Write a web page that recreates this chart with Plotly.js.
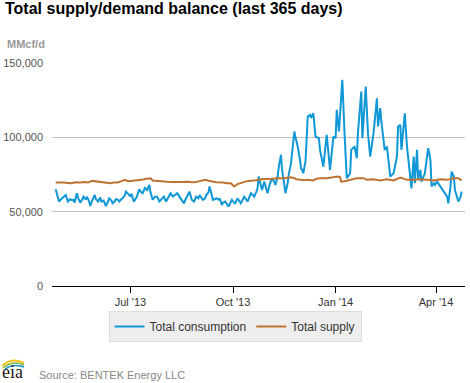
<!DOCTYPE html>
<html>
<head>
<meta charset="utf-8">
<script src="https://cdn.plot.ly/plotly-3.0.1.min.js"></script>
<style>
html,body{margin:0;padding:0;background:#fff;}
#chart{width:470px;height:383px;}
</style>
</head>
<body>
<div id="chart"></div>
<script>
// Day offsets are counted from the first day of the 365-day window
var startDate = '2013-04-25';

var consDays = [0,2,3,5,7,9,11,13,14,16,17,19,20,22,24,25,27,28,30,31,33,35,36,38,40,41,43,45,47,48,50,51,53,54,56,57,59,60,62,63,65,67,68,70,72,73,75,76,78,80,82,84,85,87,89,91,93,95,97,99,101,103,105,107,109,111,113,115,116,118,120,122,124,126,128,129,131,132,134,135,137,138,140,141,143,144,146,147,149,150,152,154,155,157,158,160,161,163,164,166,168,169,171,172,174,175,177,178,180,181,182,184,185,187,189,190,192,193,194,196,197,199,200,202,203,205,206,208,209,211,214,215,217,219,220,221,222,224,225,226,228,229,231,233,236,237,240,243,246,248,249,251,252,254,255,257,259,261,264,265,268,270,271,274,275,278,280,282,285,288,289,291,292,295,297,300,303,306,307,309,310,313,315,318,319,321,322,324,325,327,328,331,334,336,337,339,340,342,345,348,351,352,354,355,357,358,360,361,363,364];
var consumption = [65.1,59.0,56.8,58.5,60.1,61.2,56.8,58.5,57.9,58.0,56.1,62.4,59.5,56.1,58.5,60.1,58.0,60.1,57.0,53.8,58.0,61.2,58.5,56.8,59.5,56.8,57.5,53.8,57.0,59.0,57.5,55.6,57.0,58.4,58.0,56.8,58.5,59.0,61.0,63.5,62.0,60.1,62.0,56.8,59.0,60.5,65.1,63.5,62.4,66.0,64.6,68.0,63.0,58.0,60.1,60.1,56.8,58.5,60.1,56.8,59.5,62.4,60.1,61.0,62.4,60.1,57.5,55.6,57.5,60.1,63.5,58.0,56.8,60.1,59.0,61.2,59.5,57.9,59.0,61.2,63.0,66.9,61.0,57.9,58.5,59.0,58.0,59.0,54.5,56.0,56.8,55.0,53.4,56.5,57.9,56.0,55.6,59.0,57.5,55.6,58.5,60.1,58.0,56.8,60.5,62.4,61.0,60.1,63.5,65.7,73.6,68.0,64.6,70.2,66.0,62.4,68.5,70.2,72.5,70.0,68.0,73.6,80.0,88.2,78.1,68.0,62.4,69.1,75.0,82.6,103.9,100.0,93.8,85.0,79.2,78.1,75.8,84.0,100.0,114.0,115.1,113.0,116.2,100.5,99.4,91.6,80.3,101.7,78.1,91.6,100.5,99.4,118.5,103.9,114.0,138.7,102.8,72.5,75.8,91.6,93.8,85.9,102.8,130.8,99.4,134.2,102.8,87.1,102.8,126.3,107.3,119.6,110.6,91.6,93.8,73.6,75.8,87.1,107.3,108.4,91.6,116.2,93.8,71.3,65.7,87.1,69.1,91.6,71.3,78.1,70.2,75.8,92.7,84.8,66.9,69.1,68.0,70.2,66.9,63.5,60.1,55.6,66.9,77.0,73.6,64.6,57.9,56.8,60.1,63.5];

var supplyDays = [0,4,7,11,14,18,22,26,29,33,37,43,46,49,52,55,58,62,65,70,73,77,80,85,87,91,95,100,105,109,113,118,122,126,130,134,138,144,150,153,157,160,163,165,170,173,177,180,184,190,195,199,205,210,213,216,219,223,225,231,234,237,243,249,253,255,256,259,264,270,276,279,285,291,297,303,309,315,321,327,333,339,345,351,357,361,364];
var supply = [69.6,69.8,69.6,69.3,69.1,69.8,69.6,70.0,69.6,70.7,70.2,69.6,69.4,69.1,69.6,69.6,70.2,71.4,70.5,70.7,71.0,71.4,72.0,72.5,71.0,70.7,70.2,70.2,70.0,69.8,70.0,70.2,69.8,70.0,70.5,71.4,70.6,69.8,69.6,69.1,69.1,66.9,68.5,69.1,70.2,70.7,70.9,71.2,71.8,71.8,72.2,72.5,72.5,73.2,72.8,71.8,71.4,71.2,71.4,71.0,72.2,72.5,72.5,72.9,73.6,73.2,70.2,70.4,71.4,72.5,72.5,71.4,71.8,71.0,71.8,71.0,72.9,71.4,71.4,71.8,71.4,71.0,71.8,71.4,72.5,72.5,71.0];

var seriesNames = ['Total consumption', 'Total supply'];
var tickDates = ['2013-07-01', '2013-10-01', '2014-01-01', '2014-04-01'];
var tickLabels = ["Jul '13", "Oct '13", "Jan '14", "Apr '14"];
var yTicks = [0, 50000, 100000, 150000];

function dayToDate(d) {
  var t = new Date(startDate + 'T00:00:00Z');
  t.setUTCDate(t.getUTCDate() + d);
  return t.toISOString().slice(0, 10);
}
function toMMcf(v) { return v * 1000; }

// layout geometry (pixels -> paper)
var W = 470, H = 383, L = 52, R = 5, T = 63, B = 97;
var pw = W - L - R, ph = H - T - B;
function px(x) { return (x - L) / pw; }
function py(y) { return (H - B - y) / ph; }

var traces = [
  {
    x: consDays.map(dayToDate), y: consumption.map(toMMcf),
    name: seriesNames[0], type: 'scatter', mode: 'lines',
    line: {color: '#0f97d6', width: 2}, hoverinfo: 'x+y'
  },
  {
    x: supplyDays.map(dayToDate), y: supply.map(toMMcf),
    name: seriesNames[1], type: 'scatter', mode: 'lines',
    line: {color: '#bd7331', width: 2}, hoverinfo: 'x+y'
  }
];

function arc(x0, y0, cx, cy, x1, y1) {
  return 'M ' + px(x0) + ',' + py(y0) + ' Q ' + px(cx) + ',' + py(cy) + ' ' + px(x1) + ',' + py(y1);
}

var layout = {
  width: W, height: H,
  margin: {l: L, r: R, t: T, b: B, pad: 0},
  paper_bgcolor: '#ffffff', plot_bgcolor: '#ffffff',
  font: {family: 'Liberation Sans, Arial, sans-serif', size: 11, color: '#333'},
  title: {
    text: '<b>Total supply/demand balance (last 365 days)</b>',
    font: {family: 'Liberation Sans, Arial, sans-serif', size: 16, color: '#000'},
    xref: 'container', yref: 'container', x: 5 / W, xanchor: 'left', y: 1 - 3 / H, yanchor: 'top'
  },
  xaxis: {
    type: 'date', range: ['2013-04-21 17:00', '2014-04-27'],
    tickvals: tickDates, ticktext: tickLabels,
    showgrid: false, zeroline: false,
    showline: true, linecolor: '#000', linewidth: 1,
    ticks: 'outside', ticklen: 6, tickcolor: '#000', tickwidth: 1,
    tickfont: {size: 11, color: '#333'}, fixedrange: true
  },
  yaxis: {
    range: [0, 150000], tickvals: yTicks, tickformat: ',d',
    showgrid: true, gridcolor: '#c0c0c0', gridwidth: 1,
    zeroline: false, showline: false, ticks: '',
    ticklabelstandoff: 8,
    tickfont: {size: 11, color: '#555'}, fixedrange: true
  },
  showlegend: true,
  legend: {
    orientation: 'h', x: px(235), xanchor: 'center', y: py(311), yanchor: 'top',
    bgcolor: '#eeeeee', bordercolor: '#dddddd', borderwidth: 1,
    font: {size: 12, color: '#333'}, itemwidth: 30
  },
  annotations: [
    {text: '<b>MMcf/d</b>', xref: 'paper', yref: 'paper', x: px(5), y: py(44), xanchor: 'left', yanchor: 'middle',
     showarrow: false, font: {size: 11, color: '#999'}},
    {text: 'Source: BENTEK Energy LLC', xref: 'paper', yref: 'paper', x: px(37), y: py(375), xanchor: 'left', yanchor: 'middle',
     showarrow: false, font: {size: 11, color: '#888'}},
    {text: 'eia', xref: 'paper', yref: 'paper', x: px(1), y: py(372), xanchor: 'left', yanchor: 'middle',
     showarrow: false, borderpad: 0, font: {family: 'Liberation Serif, DejaVu Serif, serif', size: 18, color: '#1a1a1a'}}
  ],
  shapes: [
    {type: 'path', xref: 'paper', yref: 'paper', path: arc(2, 366, 12, 357, 24, 363), line: {color: '#f2c21b', width: 2}},
    {type: 'path', xref: 'paper', yref: 'paper', path: arc(3, 368, 13, 360, 24, 365), line: {color: '#7cb842', width: 1.5}},
    {type: 'path', xref: 'paper', yref: 'paper', path: arc(5, 369, 14, 363, 24, 367), line: {color: '#1f8fcf', width: 1.5}}
  ]
};

Plotly.newPlot('chart', traces, layout, {displayModeBar: false, staticPlot: true});
</script>
</body>
</html>
